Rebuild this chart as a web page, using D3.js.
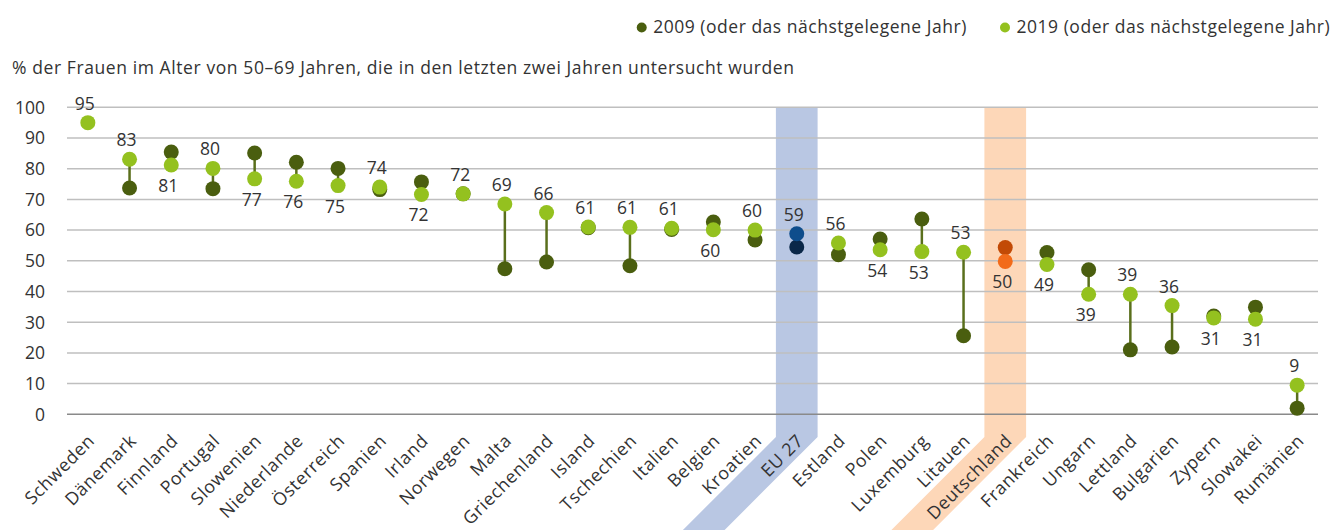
<!DOCTYPE html>
<html>
<head>
<meta charset="utf-8">
<script src="https://cdn.jsdelivr.net/npm/d3@7/dist/d3.min.js"></script>
<style>
  html, body { margin: 0; padding: 0; background: #fff; }
  svg { display: block; font-family: "Open Sans", "Noto Sans", sans-serif; }
</style>
</head>
<body>
<svg id="chart" width="1335" height="530"></svg>
<script>
const categories = ["Schweden","Dänemark","Finnland","Portugal","Slowenien","Niederlande","Österreich","Spanien","Irland","Norwegen","Malta","Griechenland","Island","Tschechien","Italien","Belgien","Kroatien","EU 27","Estland","Polen","Luxemburg","Litauen","Deutschland","Frankreich","Ungarn","Lettland","Bulgarien","Zypern","Slowakei","Rumänien"];
const values2009 = [null,73.7,85.4,73.5,85.1,82.1,80.1,73.2,75.7,71.8,47.4,49.6,60.8,48.4,60.2,62.6,56.8,54.5,52.0,57.1,63.6,25.6,54.3,52.7,47.1,21.0,21.9,32.0,34.9,2.0];
const values2019 = [95.0,83.1,81.2,80.1,76.7,75.9,74.5,74.0,71.6,71.8,68.5,65.7,61.0,60.9,60.6,60.1,60.0,58.8,55.8,53.6,53.0,52.8,49.8,48.8,39.1,39.1,35.4,31.4,31.0,9.5];
const labels2019 = [95,83,81,80,77,76,75,74,72,72,69,66,61,61,61,60,60,59,56,54,53,53,50,49,39,39,36,31,31,9];
const yTicks = [0,10,20,30,40,50,60,70,80,90,100];
const seriesNames = ["2009 (oder das nächstgelegene Jahr)","2019 (oder das nächstgelegene Jahr)"];
const titleText = "% der Frauen im Alter von 50–69 Jahren, die in den letzten zwei Jahren untersucht wurden";

const colors = {
  dark: "#4a5e0f", light: "#94c11f", line: "#5a6f1c",
  text: "#333333", grid: "#bfbfbf", axis: "#8a8a8a"
};
const highlights = {
  "EU 27": { band: "#b9c7e3", c2009: "#0a2748", c2019: "#0e4d8c" },
  "Deutschland": { band: "#fdd7b8", c2009: "#c24a06", c2019: "#f26b1a" }
};

(function () {
const svg = d3.select("#chart");
const plotLeft = 67, plotRight = 1318, plotTop = 107.3, plotBottom = 414.3;
const x = d3.scaleBand().domain(categories).range([plotLeft, plotRight]).padding(0);
const y = d3.scaleLinear().domain([0, 100]).range([plotBottom, plotTop]);
const cx = c => x(c) + x.bandwidth() / 2;
const data = categories.map((c, i) => ({ c, v09: values2009[i], v19: values2019[i], lab: labels2019[i] }));

// highlight bands
const bend = 437, far = 560;
Object.keys(highlights).forEach(c => {
  const x0 = x(c), x1 = x(c) + x.bandwidth();
  const d = far - bend;
  svg.append("path")
    .attr("d", `M${x0},${y(100)} L${x1},${y(100)} L${x1},${bend} L${x1 - d},${far} L${x0 - d},${far} L${x0},${bend} Z`)
    .attr("fill", highlights[c].band);
});

// gridlines
svg.append("g").selectAll("line").data(yTicks).join("line")
  .attr("x1", plotLeft).attr("x2", plotRight)
  .attr("y1", d => y(d)).attr("y2", d => y(d))
  .attr("stroke", d => d === 0 ? colors.axis : colors.grid)
  .attr("stroke-width", 1.5);

// y axis labels
svg.append("g").selectAll("text").data(yTicks).join("text")
  .attr("x", 45).attr("y", d => y(d)).attr("dy", "0.36em")
  .attr("text-anchor", "end").attr("font-size", 17.5).attr("fill", colors.text)
  .text(d => d);

// x axis labels
svg.append("g").selectAll("text").data(categories).join("text")
  .attr("transform", c => `translate(${cx(c) + 3.5},${437.5}) rotate(-45)`)
  .attr("text-anchor", "end").attr("dy", "0.35em")
  .attr("font-size", 17.8).attr("letter-spacing", 0.65).attr("fill", colors.text)
  .text(c => c);

// connectors
svg.append("g").selectAll("line").data(data.filter(d => d.v09 != null)).join("line")
  .attr("x1", d => cx(d.c)).attr("x2", d => cx(d.c))
  .attr("y1", d => y(d.v09)).attr("y2", d => y(d.v19))
  .attr("stroke", colors.line).attr("stroke-width", 2.5);

const r = 7.5;
svg.append("g").selectAll("circle").data(data.filter(d => d.v09 != null)).join("circle")
  .attr("cx", d => cx(d.c)).attr("cy", d => y(d.v09)).attr("r", r)
  .attr("fill", d => highlights[d.c] ? highlights[d.c].c2009 : colors.dark);
svg.append("g").selectAll("circle").data(data).join("circle")
  .attr("cx", d => cx(d.c)).attr("cy", d => y(d.v19)).attr("r", r)
  .attr("fill", d => highlights[d.c] ? highlights[d.c].c2019 : colors.light);

// value labels
svg.append("g").selectAll("text").data(data).join("text")
  .attr("x", d => cx(d.c) - 3)
  .attr("y", d => {
    const above = d.v09 == null || d.v19 >= d.v09;
    return above ? y(d.v19) - 13 : y(d.v19) + 27;
  })
  .attr("text-anchor", "middle").attr("font-size", 17.5).attr("fill", colors.text)
  .text(d => d.lab);

// title
svg.append("text").attr("x", 12).attr("y", 74)
  .attr("font-size", 17.5).attr("letter-spacing", 0.59).attr("fill", colors.text).text(titleText);

// legend
const legend = [
  { x: 641.7, name: seriesNames[0], color: colors.dark },
  { x: 1005, name: seriesNames[1], color: colors.light }
];
const lg = svg.append("g").selectAll("g").data(legend).join("g");
lg.append("circle").attr("cx", d => d.x).attr("cy", 27.5).attr("r", 5).attr("fill", d => d.color);
lg.append("text").attr("x", d => d.x + 11.5).attr("y", 26.5).attr("dy", "0.36em")
  .attr("font-size", 17.5).attr("letter-spacing", 0.52).attr("fill", colors.text).text(d => d.name);
})();
</script>
</body>
</html>
